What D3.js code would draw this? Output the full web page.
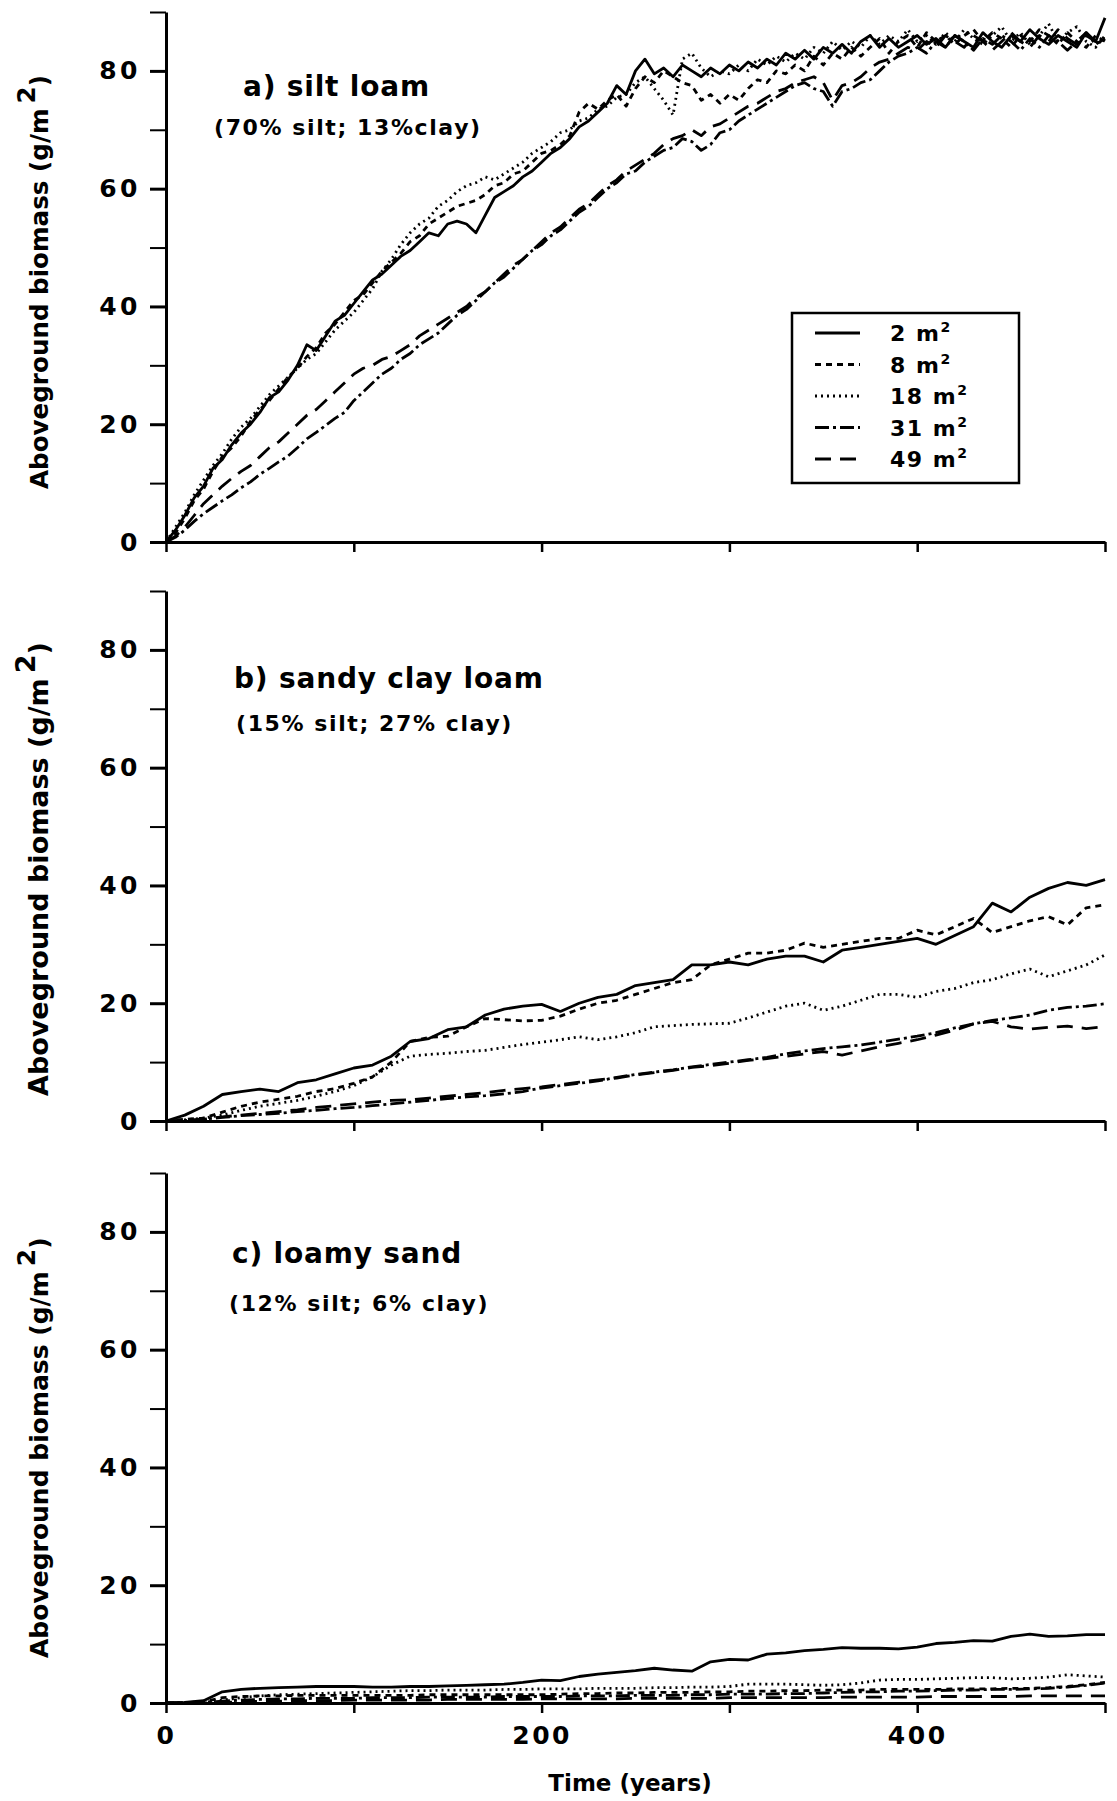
<!DOCTYPE html>
<html>
<head>
<meta charset="utf-8">
<script src="https://cdn.jsdelivr.net/npm/d3@7"></script>
<style>
  body { margin: 0; background: #fff; }
  figure { margin: 0; }
  svg text { font-family: "DejaVu Sans", sans-serif; font-weight: bold; fill: #000; }
</style>
</head>
<body>
<figure></figure>
<script>
// plot sizes (m2) and legend text
const plotSizes = ["2", "8", "18", "31", "49"]

// x grid of the runs
const yearsA = [0,5,10,15,20,25,30,35,40,45,50,55,60,65,70,75,80,85,90,95,100,
  105,110,115,120,125,130,135,140,145,150,155,160,165,170,175,180,185,190,195,200,
  205,210,215,220,225,230,235,240,245,250,255,260,265,270,275,280,285,290,295,300,
  305,310,315,320,325,330,335,340,345,350,355,360,365,370,375,380,385,390,395,400,
  405,410,415,420,425,430,435,440,445,450,455,460,465,470,475,480,485,490,495,500]
const yearsB = [0,10,20,30,40,50,60,70,80,90,100,110,120,130,140,150,160,170,180,190,200,
  210,220,230,240,250,260,270,280,290,300,310,320,330,340,350,360,370,380,390,400,
  410,420,430,440,450,460,470,480,490,500]

// a) silt loam
const siltLoam2 = [0,2,4.5,7.5,9.5,12.5,14,16.5,18.5,20,22,24.5,25.5,27.5,30,33.5,32.5,35,37.5,38.5,40.5,
  42.5,44.5,45.5,47,48.5,49.5,51,52.5,52,54,54.5,54,52.5,55.5,58.5,59.5,60.5,62,63,64.5,
  66,67,68.5,70.5,71.5,73,74.5,77.5,76,80,82,79.5,80.5,79,81,80,79,80.5,79.5,81,
  80,81.5,80.5,82,81,83,82,83.5,82,84,83,84.5,83,85,86,84,85.5,84,85,86,
  84.5,85.5,84,86,85,84,86.5,85,84,86,85,87,85.5,84.5,86,85,84,86.5,85,89]
const siltLoam8 = [0,1.5,4,7,9,12,14.5,16,18,20.5,22.5,24,26,28,29.5,31.5,33,35.5,37,39,41,
  42,44,46,47.5,49,51,52,54,55,56,57,57.5,58,59,60.5,61,62.5,63,64.5,66,
  66.5,67.5,69,73,74.5,73.5,75,76,74,77,79,78,80,79,78,77.5,75,76,74.5,76,
  75,77,78.5,78,80,79.5,81,80,82.5,81,83,82,84,82.5,84,85.5,83,85,86,84,
  86.5,85,86,84.5,86,87,85,86.5,85.5,84,86,85,87,86,84.5,86.5,85,84,86,85]
const siltLoam18 = [0,2.5,5,8,10.5,13,15,17.5,19.5,21,23,25,26.5,28,29.5,31,32,34,36,37.5,39,
  41,43,46,48,50.5,52.5,54,55,57,58,59.5,60.5,61,62,61.5,62.5,63.5,64.5,66,67,
  68,69.5,70,71.5,72,73.5,74,75.5,76,78,79,77,75,72.5,82,83,80.5,79,80,79.5,
  81,80,82,81,82.5,81.5,83,82,84,83,85,83.5,85,84,86,84.5,86,85,87,85,
  86,84.5,86.5,85,87,85.5,84.5,86,87.5,85,86.5,84.5,86,88,85,86.5,87.5,85,84,86]
const siltLoam31 = [0,0.8,2,3.5,4.8,5.9,7,8,9.2,10.2,11.5,12.5,13.6,14.6,16,17.5,18.6,19.8,21,22,24,
  25.5,27,28.5,29.5,31,32,33.5,34.5,35.5,37,38.5,39.5,41,42.5,44,45,46.5,48,49.5,50.5,
  52,53,54.5,56,57,58.5,60,61,62.5,63,64.5,65.5,66.5,67,68.5,68,66.5,67.5,69.5,70,
  71.5,72.5,73.5,74.5,75.5,76.5,77.5,78,77,76.5,74,76.5,77,78,78.5,80,81.5,82.5,83,84,
  83,85,84,86,85,83.5,85.5,84.5,86,85,83.5,85.5,84,86,85,83.5,85,86.5,84.5,85.5]
const siltLoam49 = [0,1,2.5,4.5,6.5,8,9.5,10.8,12,13,14.5,16,17,18.5,20,21.5,22.5,24,25.5,27,28.5,
  29.5,30,31,31.5,32.5,33.5,35,36,37,38,39,40,41.5,42.5,44,45.5,47,48,49.5,51,
  52.5,53.5,55,56.5,57.5,59,60.5,61.5,63,64,65,66,67.5,68.5,69,70,69,70.5,71,72,
  73,74,74.5,75.5,76.5,77,78,78.5,79,78,75,77.5,78,79,80.5,81.5,82,83,84,83.5,
  85,84,86,85,84,86,85,83.5,85,86.5,85,84,86,85,87,85.5,84.5,86,85,84]

// b) sandy clay loam
const sandyClay2 = [0,1,2.5,4.5,5,5.4,5,6.5,7,8, 9,9.5,11,13.5,14,15.5,16,18,19,19.5,
  19.8,18.6,20,21,21.5,23,23.5,24,26.5,26.5, 27,26.5,27.5,28,28,27,29,29.5,30,30.5,
  31,30,31.5,33,37,35.5,38,39.5,40.5,40, 41]
const sandyClay8 = [0,0.3,0.5,1.5,2.5,3.2,3.7,4.2,5,5.5, 6.4,7.5,10,13.5,14.2,14.4,16,17.4,17.2,17,
  17.1,17.8,19,20,20.5,21.5,22.5,23.5,24,26.5, 27.5,28.5,28.5,29,30.2,29.5,30,30.5,31,31,
  32.4,31.6,33,34.4,32,33,34,34.7,33.3,36.2, 36.7]
const sandyClay18 = [0,0.2,0.5,1,1.8,2.5,3,3.5,4.2,5, 6,7.5,9.5,11,11.3,11.5,11.8,12,12.5,13,
  13.4,13.8,14.3,13.8,14.3,15,16,16.2,16.4,16.5, 16.6,17.5,18.5,19.5,20,18.8,19.5,20.5,21.5,21.5,
  21,22,22.5,23.5,24,25,25.8,24.5,25.5,26.5, 28.2]
const sandyClay31 = [0,0.1,0.3,0.6,0.9,1.1,1.3,1.6,1.8,2.1, 2.3,2.6,2.9,3.2,3.5,3.8,4.1,4.3,4.6,5,
  5.6,6,6.4,6.8,7.4,7.9,8.3,8.7,9.2,9.6, 10,10.4,10.8,11.4,11.9,12.3,12.6,12.9,13.4,13.9,
  14.4,15,15.8,16.5,17.1,17.5,18,18.8,19.3,19.5, 19.9]
const sandyClay49 = [0,0.1,0.3,0.7,1,1.3,1.6,1.9,2.3,2.6, 2.9,3.2,3.5,3.6,3.9,4.2,4.5,4.8,5.2,5.5,
  5.8,6.2,6.6,7,7.3,7.8,8.2,8.6,9.1,9.4, 9.8,10.3,10.6,11,11.4,11.8,11.2,11.9,12.6,13.2,
  13.8,14.6,15.4,16.5,16.9,16,15.6,15.9,16.1,15.7, 16]

// c) loamy sand
const loamySand2 = [0,0.1,0.4,1.9,2.3,2.5,2.6,2.7,2.8,2.8, 2.8,2.7,2.7,2.8,2.8,2.9,3,3.1,3.2,3.5,
  3.9,3.8,4.5,4.9,5.2,5.5,5.9,5.6,5.4,7, 7.4,7.3,8.3,8.5,8.9,9.1,9.4,9.3,9.3,9.2,
  9.5,10.1,10.3,10.6,10.5,11.3,11.7,11.3,11.4,11.6, 11.6]
const loamySand8 = [0,0.05,0.2,0.9,1.1,1.2,1.2,1.3,1.3,1.3, 1.3,1.3,1.3,1.3,1.4,1.4,1.4,1.4,1.4,1.4,
  1.4,1.5,1.6,1.6,1.7,1.7,1.8,1.8,1.8,1.9, 1.9,2,2,2.1,2.1,2.2,2.2,2.2,2.3,2.3,
  2.3,2.3,2.4,2.4,2.4,2.5,2.5,2.6,2.8,3.1, 3.5]
const loamySand18 = [0,0,0.1,0.5,0.9,1.2,1.4,1.5,1.6,1.7, 1.8,1.9,2,2.1,2.1,2.2,2.2,2.2,2.3,2.3,
  2.4,2.4,2.4,2.5,2.5,2.5,2.6,2.6,2.7,2.7, 2.8,3.2,3.2,3.2,3.1,3,3.1,3.4,3.9,4,
  4,4.1,4.2,4.3,4.3,4.1,4.2,4.4,4.8,4.6, 4.4]
const loamySand31 = [0,0,0.1,0.3,0.5,0.6,0.7,0.7,0.8,0.8, 0.8,0.9,0.9,0.9,1,1,1,1,1.1,1.1,
  1.1,1.1,1.2,1.2,1.2,1.3,1.3,1.3,1.4,1.4, 1.5,1.5,1.5,1.6,1.6,1.7,1.8,1.9,1.9,2,
  2,2.1,2.2,2.2,2.3,2.3,2.4,2.5,2.7,3, 3.4]
const loamySand49 = [0,0,0,0.1,0.2,0.3,0.3,0.4,0.4,0.4, 0.5,0.5,0.5,0.5,0.5,0.6,0.6,0.6,0.6,0.6,
  0.7,0.7,0.7,0.7,0.7,0.8,0.8,0.8,0.8,0.8, 0.9,0.9,0.9,0.9,0.9,0.9,1,1,1,1,
  1,1.1,1.1,1.1,1.1,1.1,1.2,1.2,1.2,1.2, 1.2]

// axes
const yTicks = [0,10,20,30,40,50,60,70,80,90]
const yTickLabels = [0,20,40,60,80]
const xTicks = [0,100,200,300,400,500]
const xTickLabels = [0,200,400]

const titles = ["a) silt loam", "b) sandy clay loam", "c) loamy sand"]
const subtitles = ["(70% silt; 13%clay)", "(15% silt; 27% clay)", "(12% silt; 6% clay)"]

const panels = [
  {years: yearsA, series: [siltLoam2, siltLoam8, siltLoam18, siltLoam31, siltLoam49]},
  {years: yearsB, series: [sandyClay2, sandyClay8, sandyClay18, sandyClay31, sandyClay49]},
  {years: yearsB, series: [loamySand2, loamySand8, loamySand18, loamySand31, loamySand49]}
]

// line styles per plot size
const dashes = [null, "6,5", "2,4", "14,4,3,4", "16,9"]

const W = 1117, H = 1801,
      left = 166, right = 1105,
      bottoms = [542, 1121, 1703],
      plotH = 530,
      titlePos = [[243, 96, 214, 135], [234, 688, 236, 731], [232, 1263, 229, 1311]],
      // y title: gap above the x axis and font size, as scanned
      yTitleGap = [53, 25, 45],
      yTitleSize = [24.6, 27, 25]

const svg = d3.select('figure').append('svg')
    .attr('width', W)
    .attr('height', H)

svg.append('rect').attr('width', W).attr('height', H).attr('fill', '#fff')

const x = d3.scaleLinear().domain([0, 500]).range([left, right])

panels.forEach(function(p, i) {
  const y = d3.scaleLinear().domain([0, 90]).range([bottoms[i], bottoms[i] - plotH])
  const g = svg.append('g')

  const line = d3.line()
      .x(function(d) { return x(d[0]) })
      .y(function(d) { return y(d[1]) })

  // series, big plots first so 2 m2 sits on top
  d3.range(p.series.length).reverse().forEach(function(k) {
    g.append('path')
        .datum(p.years.map(function(yr, j) { return [yr, p.series[k][j]] }))
        .attr('d', line)
        .attr('fill', 'none')
        .attr('stroke', '#000')
        .attr('stroke-width', 2.8)
        .attr('stroke-linejoin', 'round')
        .attr('stroke-dasharray', dashes[k])
  })

  // y axis
  const ya = g.append('g')
      .attr('transform', 'translate(' + left + ',0)')
      .call(d3.axisLeft(y)
          .tickValues(yTicks)
          .tickSize(16)
          .tickSizeOuter(0)
          .tickPadding(9)
          .tickFormat(function(d) { return yTickLabels.includes(d) ? d : '' }))
      .attr('font-family', null)
      .attr('font-size', 25)
  ya.select('.domain').attr('stroke-width', 3)
  ya.selectAll('.tick line').attr('stroke-width', function(d) { return d % 20 === 0 ? 3 : 2 })
  ya.selectAll('.tick text').attr('letter-spacing', 3.5)

  // x axis
  const xa = g.append('g')
      .attr('transform', 'translate(0,' + bottoms[i] + ')')
      .call(d3.axisBottom(x)
          .tickValues(xTicks)
          .tickSize(10)
          .tickSizeOuter(0)
          .tickPadding(13)
          .tickFormat(function(d) { return (i === 2 && xTickLabels.includes(d)) ? d : '' }))
      .attr('font-family', null)
      .attr('font-size', 25)
  xa.select('.domain').attr('stroke-width', 3)
  xa.selectAll('.tick line').attr('stroke-width', 2.5)
  xa.selectAll('.tick text').attr('letter-spacing', 2.5)

  // y axis title, starts near the bottom of the panel
  const yt = g.append('text')
      .attr('transform', 'translate(48,' + (bottoms[i] - yTitleGap[i]) + ') rotate(-90)')
      .attr('font-size', yTitleSize[i])
  yt.append('tspan').text('Aboveground biomass (g/m')
  yt.append('tspan').attr('dx', 5).attr('dy', -13).text('2')
  yt.append('tspan').attr('dy', 13).text(')')

  // panel title
  g.append('text')
      .attr('x', titlePos[i][0])
      .attr('y', titlePos[i][1])
      .attr('font-size', 28)
      .attr('letter-spacing', 0.8)
      .text(titles[i])
  g.append('text')
      .attr('x', titlePos[i][2])
      .attr('y', titlePos[i][3])
      .attr('font-size', 22)
      .attr('letter-spacing', 1.6)
      .text(subtitles[i])
})

// x axis title
svg.append('text')
    .attr('x', 630)
    .attr('y', 1791)
    .attr('text-anchor', 'middle')
    .attr('font-size', 23)
    .text('Time (years)')

// legend in panel a
const legend = svg.append('g').attr('transform', 'translate(792,313)')
legend.append('rect')
    .attr('width', 227)
    .attr('height', 170)
    .attr('fill', '#fff')
    .attr('stroke', '#000')
    .attr('stroke-width', 2.5)

plotSizes.forEach(function(s, k) {
  const row = legend.append('g').attr('transform', 'translate(0,' + (20 + k * 31.5) + ')')
  row.append('line')
      .attr('x1', 23).attr('x2', 68)
      .attr('stroke', '#000')
      .attr('stroke-width', 3)
      .attr('stroke-dasharray', dashes[k])
  const t = row.append('text')
      .attr('x', 98)
      .attr('y', 8)
      .attr('font-size', 22)
      .attr('letter-spacing', 1.5)
  t.append('tspan').text(s + ' m')
  t.append('tspan').attr('dy', -9).attr('font-size', 14).text('2')
})
</script>
</body>
</html>
